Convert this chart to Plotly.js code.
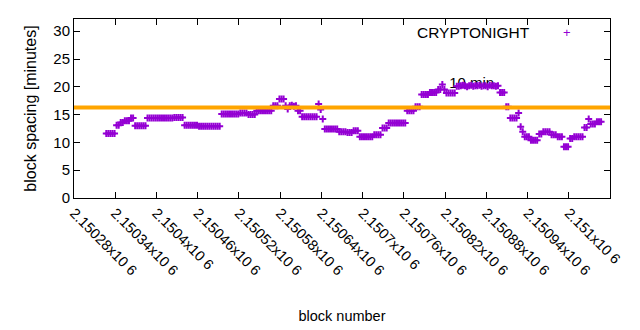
<!DOCTYPE html>
<html>
<head>
<meta charset="utf-8">
<script src="https://cdn.plot.ly/plotly-3.0.1.min.js"></script>
<style>
html,body{margin:0;padding:0;background:#fff;}
#chart{width:640px;height:330px;}
</style>
</head>
<body>
<div id="chart"></div>
<script>
// ---- data ----
const seriesName = "CRYPTONIGHT";
const firstBlock = 2150327;   // first plotted block
const blockStep = 3;          // values below are read every 3 blocks
const spacingMinutes = [
  11.6,11.6,11.6,11.6,11.6,13.1,13.1,13.6,13.6,13.9,
  13.9,13.9,14.4,14.4,13.0,13.0,13.0,13.0,13.0,13.0,
  14.4,14.4,14.4,14.4,14.4,14.4,14.4,14.4,14.4,14.4,
  14.4,14.4,14.4,14.5,14.5,14.5,14.5,14.5,13.1,13.1,
  13.1,13.1,13.1,13.1,13.1,12.9,12.9,12.9,12.9,12.9,
  12.9,12.9,12.9,12.9,12.9,12.9,15.1,15.1,15.1,15.1,
  15.1,15.1,15.1,15.1,15.1,15.3,15.3,15.3,15.3,15.0,
  15.0,15.0,15.0,15.7,15.7,15.7,15.7,15.7,15.7,15.7,
  15.7,16.6,16.6,16.6,17.8,17.8,17.8,16.6,16.0,16.6,
  16.7,16.5,16.6,15.7,15.7,14.6,14.6,14.6,14.6,14.6,
  14.6,14.6,14.6,16.9,15.9,14.2,12.4,12.4,12.4,12.4,
  12.4,12.4,12.4,11.9,11.9,11.9,11.9,11.8,11.8,11.8,
  12.1,12.1,12.1,11.0,11.0,11.0,11.0,11.0,11.0,11.0,
  11.4,11.4,11.4,11.4,12.6,12.6,12.6,13.5,13.5,13.5,
  13.5,13.5,13.5,13.5,13.5,13.5,15.7,15.7,15.7,15.7,
  16.4,16.4,16.4,18.6,18.6,18.6,18.6,19.0,19.0,19.0,
  19.0,19.5,19.5,20.4,19.5,18.9,18.9,18.9,18.9,18.9,
  20.1,20.1,20.2,20.3,20.2,20.0,20.2,20.3,20.1,20.2,
  20.2,20.3,20.1,20.2,20.2,20.0,20.3,20.2,20.2,20.1,
  20.2,19.0,19.0,19.0,16.4,16.4,14.4,14.4,14.4,14.4,
  15.3,12.8,11.9,11.0,11.0,11.0,10.4,10.4,10.4,10.4,
  11.5,11.5,11.9,11.9,11.9,11.9,11.4,11.4,11.4,11.0,
  11.0,11.0,9.2,9.2,9.2,10.7,10.7,11.0,11.0,11.0,
  11.0,11.0,12.7,12.7,14.2,13.3,13.3,13.3,13.7,13.7,
  13.7
];
const refLineValue = 16.3;
const refLabel = "10 min";
const refLabelBlock = 2150826;
const refLabelValue = 20.4;
const xTickVals = [2150280,2150340,2150400,2150460,2150520,2150580,2150640,2150700,2150760,2150820,2150880,2150940,2151000,2151060];
const xTickText = ["2.15028x10 6","2.15034x10 6","2.1504x10 6","2.15046x10 6","2.15052x10 6","2.15058x10 6","2.15064x10 6","2.1507x10 6","2.15076x10 6","2.15082x10 6","2.15088x10 6","2.15094x10 6","2.151x10 6","2.15106x10 6"];
const yTickVals = [0,5,10,15,20,25,30];
const xRange = [2150280, 2151060];
const yRange = [0, 32.2];

// ---- build ----
const blocks = spacingMinutes.map((_, i) => firstBlock + i * blockStep);
const purple = "#9400D3";
const FONT = "Liberation Sans, Arial, sans-serif";

const traces = [
  {
    x: [refLabelBlock], y: [refLabelValue], text: [refLabel],
    mode: "text", textposition: "middle right",
    textfont: {family: FONT, size: 15, color: "#000"},
    hoverinfo: "skip", showlegend: false
  },
  {
    x: blocks, y: spacingMinutes, name: seriesName,
    mode: "markers", type: "scatter",
    marker: {symbol: "cross-thin", size: 5, color: purple,
             line: {color: purple, width: 2}},
    showlegend: false
  }
];

const layout = {
  width: 640, height: 330,
  margin: {l: 74, r: 30, t: 19, b: 132, pad: 0},
  paper_bgcolor: "#fff", plot_bgcolor: "#fff",
  font: {family: FONT, size: 15, color: "#000"},
  showlegend: false,
  xaxis: {
    range: xRange, tickvals: xTickVals, ticktext: xTickText,
    tickangle: 45, ticks: "inside", ticklen: 6, tickcolor: "#000",
    showline: true, linecolor: "#000", linewidth: 1, mirror: "ticks",
    showgrid: false, zeroline: false,
    tickfont: {family: FONT, size: 14.5, color: "#000"},
    title: {text: "block number", font: {family: FONT, size: 14.5, color: "#000"}, standoff: 33}
  },
  yaxis: {
    range: yRange, tickvals: yTickVals,
    ticks: "inside", ticklen: 6, tickcolor: "#000",
    showline: true, linecolor: "#000", linewidth: 1, mirror: "ticks",
    showgrid: false, zeroline: false,
    tickfont: {family: FONT, size: 15, color: "#000"},
    title: {text: "block spacing [minutes]", font: {family: FONT, size: 16, color: "#000"}, standoff: 12}
  },
  shapes: [{
    type: "line", xref: "paper", x0: 0, x1: 1, yref: "y",
    y0: refLineValue, y1: refLineValue,
    line: {color: "#FFA500", width: 4}, layer: "above"
  }],
  annotations: [
    {xref: "paper", yref: "paper", x: 0.8545, y: 0.927, xanchor: "right", yanchor: "middle",
     text: seriesName, showarrow: false, font: {family: FONT, size: 15.5, color: "#000"}},
    {xref: "paper", yref: "paper", x: 0.9198, y: 0.927, xanchor: "center", yanchor: "middle",
     text: "+", showarrow: false, font: {family: FONT, size: 13, color: purple}}
  ]
};

Plotly.newPlot("chart", traces, layout, {displayModeBar: false, staticPlot: true});
</script>
</body>
</html>
